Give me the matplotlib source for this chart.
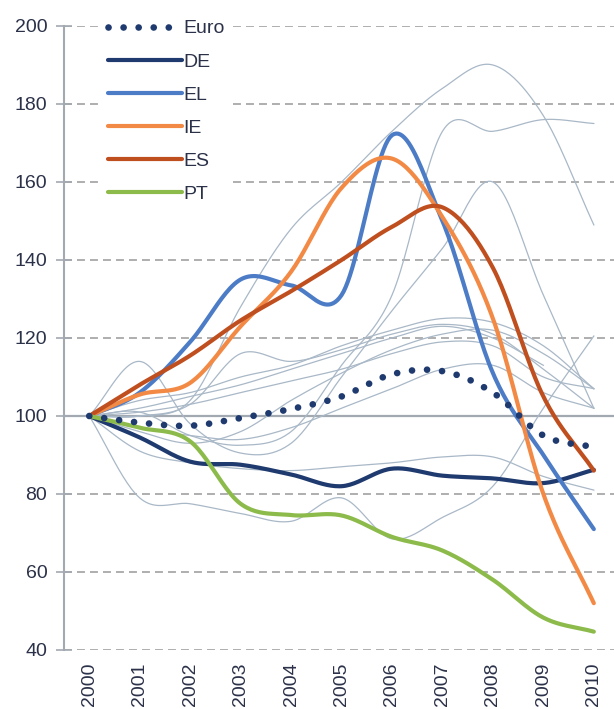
import numpy as np
import matplotlib.pyplot as plt

plt.rcParams['font.family'] = ['Liberation Sans', 'DejaVu Sans']

# Index, 2000 = 100
years = list(range(2000, 2011))
euro = [100, 98.3, 97.5, 99.5, 101.8, 105, 110.7, 111.5, 106, 95, 92]
de = [100, 94.5, 88.3, 87.5, 85, 82, 86.5, 84.7, 84, 82.8, 86.2]
el = [100, 106, 119, 135, 133.5, 131, 172, 150, 111, 90, 71]
ie = [100, 105.5, 108.5, 123, 137, 158.5, 166, 151, 125, 80, 52]
es = [100, 108, 115.5, 124.5, 132, 140, 148.5, 153.5, 138, 105, 86]
pt = [100, 97, 93.5, 77.5, 74.6, 74.5, 69, 65.5, 58, 48.3, 44.7]

# other euro area countries (thin lines)
nan = np.nan
others = [
    [100, 100, 104, 128, 148, 160, 173, 184, 190, 177, 149],
    [100, 101, 95, 92.5, 96, 113, 131, 173, 173, 176, 175],
    [100, 114, 98, 90.5, 93, 110, 127, 143, 160, 131, 102],
    [100, 79, 77.5, 75, 73, 79, 68.5, 74, 82, 102, 120.5],
    [100, 91, 88, 86.5, 86, 87, 88, 89.5, 89.5, 84.5, 81],
    [100, 102, 105, 108, 112, 116, 120, 123, 120, 113, nan],
    [100, 101, 103, 106, 109, 112, 116, 119, 118, 110, 107],
    [100, 100, 103, 116, 114, 117, 121, 123.5, 121, 112, 102],
    [100, 97, 95, 94, 97, 102, 107, 112, 113, 106, 102],
    [100, 96, 93, 96, 104, 111, 117, 121, 122, 116, 107],
    [100, 104, 106, 110, 113, 118, 122, 125, 124, 118, 107],
]

yticks = [40, 60, 80, 100, 120, 140, 160, 180, 200]


def smooth(x, y, n=24):
    # Catmull-Rom curve through the points, like a smoothed spreadsheet line
    x = np.asarray(x, float)
    y = np.asarray(y, float)
    ok = np.isfinite(y)
    x, y = x[ok], y[ok]
    px = np.concatenate([[2 * x[0] - x[1]], x, [2 * x[-1] - x[-2]]])
    py = np.concatenate([[2 * y[0] - y[1]], y, [2 * y[-1] - y[-2]]])
    t = np.linspace(0, 1, n, endpoint=False)
    xs, ys = [], []
    for i in range(1, len(px) - 2):
        for arr, out in ((px, xs), (py, ys)):
            p0, p1, p2, p3 = arr[i - 1:i + 3]
            out.extend(0.5 * (2 * p1 + (-p0 + p2) * t
                              + (2 * p0 - 5 * p1 + 4 * p2 - p3) * t ** 2
                              + (-p0 + 3 * p1 - 3 * p2 + p3) * t ** 3))
    xs.append(x[-1])
    ys.append(y[-1])
    return np.array(xs), np.array(ys)


fig = plt.figure(figsize=(6.14, 7.09), dpi=100)
ax = fig.add_axes([64 / 614, 59 / 709, 550 / 614, 624 / 709])
ax.set_xlim(1999.5, 2010.4)
ax.set_ylim(40, 200)

grey = '#a3a9b1'
for v in yticks:
    if v == 100:
        ax.axhline(v, color=grey, lw=1.6, zorder=1)
    else:
        ax.axhline(v, color='#a8a8a8', lw=1.3, ls=(0, (4.4, 2.8)), zorder=1)

for s in others:
    xs, ys = smooth(years, s)
    ax.plot(xs, ys, color='#a9b8c7', lw=0.9, zorder=2)

series = [
    ('DE', de, '#1f3a6e'),
    ('EL', el, '#4d7cc7'),
    ('IE', ie, '#f28a45'),
    ('ES', es, '#c04f1f'),
    ('PT', pt, '#8dbb4b'),
]

handles = []
xs, ys = smooth(years, euro, n=60)
h, = ax.plot(xs, ys, color='#1f3a6e', lw=4.8, ls=(0, (0.01, 2.25)),
             dash_capstyle='round', zorder=4, label='Euro')
handles.append(h)
for name, vals, col in series:
    xs, ys = smooth(years, vals)
    h, = ax.plot(xs, ys, color=col, lw=3.0, solid_capstyle='round',
                 zorder=3, label=name)
    handles.append(h)

for side in ('top', 'right', 'bottom'):
    ax.spines[side].set_visible(False)
ax.spines['left'].set_color(grey)
ax.spines['left'].set_linewidth(1.5)

ax.set_yticks(yticks)
ax.set_xticks(years)
ax.set_xticklabels([str(y) for y in years], rotation=90)
ax.tick_params(axis='y', direction='inout', length=12, width=1.2, color=grey,
               pad=6, labelsize=14, labelcolor='#2b3148')
ax.tick_params(axis='x', length=0, pad=9, labelsize=14, labelcolor='#2b3148')

leg = ax.legend(handles=handles, loc='upper left',
                bbox_to_anchor=(100 / 614, 1 - 12 / 709),
                bbox_transform=fig.transFigure, borderaxespad=0,
                frameon=True, fancybox=False, fontsize=14,
                handlelength=3.8, handletextpad=0.1, labelspacing=0.8,
                borderpad=0.4)
leg.get_frame().set_facecolor('white')
leg.get_frame().set_edgecolor('none')
leg.get_frame().set_alpha(1)
for t in leg.get_texts():
    t.set_color('#2b3148')

fig.savefig('out.png', dpi=100)
